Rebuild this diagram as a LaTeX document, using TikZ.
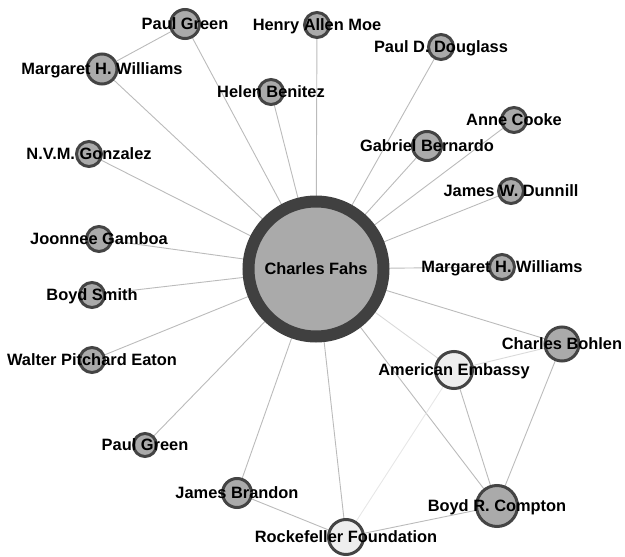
\documentclass[tikz,border=0pt]{standalone}
\usepackage{fontspec}
\setmainfont{Liberation Sans}
\definecolor{nfill}{HTML}{AAAAAA}
\definecolor{lfill}{HTML}{EEEEEE}
\definecolor{nstroke}{HTML}{444444}
\definecolor{cstroke}{HTML}{404040}
\definecolor{edgec}{HTML}{BBBBBB}
\begin{document}
\begin{tikzpicture}[x=1pt,y=-1pt,
  vtx/.style={circle,draw=nstroke,fill=nfill,line width=3pt,inner sep=0pt,minimum size=#1},
  lvtx/.style={vtx=#1,fill=lfill},
  lbl/.style={anchor=base,inner sep=0pt,font=\fontsize{16.4}{19}\selectfont\bfseries,text=black},
  edge/.style={draw=edgec,line width=0.9pt},
  faint/.style={draw=edgec!55,line width=0.9pt}]
\useasboundingbox (0,0) rectangle (625,557);
% coordinates of node centres
\coordinate (cf) at (316,269);
\coordinate (pgt) at (185,24);
\coordinate (mwl) at (102,69);
\coordinate (hb) at (271,92);
\coordinate (nvm) at (89,154);
\coordinate (ham) at (317,25);
\coordinate (pdd) at (441,47);
\coordinate (ac) at (514,120);
\coordinate (gb) at (427,146);
\coordinate (jwd) at (511,191);
\coordinate (mwr) at (502,267);
\coordinate (jg) at (99,239);
\coordinate (bs) at (92,295);
\coordinate (wpe) at (92,360);
\coordinate (pgb) at (145,445);
\coordinate (jb) at (237,493);
\coordinate (rf) at (346,537);
\coordinate (ae) at (454,370);
\coordinate (cb) at (562,344);
\coordinate (brc) at (497,506);
% edges
\foreach \t in {pgt,mwl,hb,nvm,ham,pdd,ac,gb,jwd,mwr,jg,bs,wpe,pgb,jb,rf,cb,brc}
  \draw[edge] (cf) -- (\t);
\draw[faint] (cf) -- (ae);
\draw[edge] (mwl) -- (pgt);
\draw[faint] (ae) -- (cb);
\draw[edge] (ae) -- (brc);
\draw[draw=edgec!35,line width=0.9pt] (ae) -- (rf);
\draw[edge] (cb) -- (brc);
\draw[edge] (brc) -- (rf);
\draw[edge] (jb) -- (rf);
% vertices
\node[circle,draw=cstroke,fill=nfill,line width=12pt,inner sep=0pt,minimum size=135pt] (ncf) at (cf) {};
\node[vtx=29pt] (npgt) at (pgt) {};
\node[vtx=30pt] (nmwl) at (mwl) {};
\node[vtx=25pt] (nhb) at (hb) {};
\node[vtx=25pt] (nnvm) at (nvm) {};
\node[vtx=25pt] (nham) at (ham) {};
\node[vtx=25pt] (npdd) at (pdd) {};
\node[vtx=25pt] (nac) at (ac) {};
\node[vtx=29pt] (ngb) at (gb) {};
\node[vtx=25pt] (njwd) at (jwd) {};
\node[vtx=25pt] (nmwr) at (mwr) {};
\node[vtx=25pt] (njg) at (jg) {};
\node[vtx=25pt] (nbs) at (bs) {};
\node[vtx=25pt] (nwpe) at (wpe) {};
\node[vtx=23pt] (npgb) at (pgb) {};
\node[vtx=29pt] (njb) at (jb) {};
\node[lvtx=35pt] (nrf) at (rf) {};
\node[lvtx=37pt] (nae) at (ae) {};
\node[vtx=34pt] (ncb) at (cb) {};
\node[vtx=41pt] (nbrc) at (brc) {};
% labels
\node[lbl] (tcf) at ([yshift=-5.6pt]cf) {Charles Fahs};
\node[lbl] (tpgt) at ([yshift=-5.6pt]pgt) {Paul Green};
\node[lbl] (tmwl) at ([yshift=-5.6pt]mwl) {Margaret H. Williams};
\node[lbl] (thb) at ([yshift=-5.6pt]hb) {Helen Benitez};
\node[lbl] (tnvm) at ([yshift=-5.6pt]nvm) {N.V.M. Gonzalez};
\node[lbl] (tham) at ([yshift=-5.6pt]ham) {Henry Allen Moe};
\node[lbl] (tpdd) at ([yshift=-5.6pt]pdd) {Paul D. Douglass};
\node[lbl] (tac) at ([yshift=-5.6pt]ac) {Anne Cooke};
\node[lbl] (tgb) at ([yshift=-5.6pt]gb) {Gabriel Bernardo};
\node[lbl] (tjwd) at ([yshift=-5.6pt]jwd) {James W. Dunnill};
\node[lbl] (tmwr) at ([yshift=-5.6pt]mwr) {Margaret H. Williams};
\node[lbl] (tjg) at ([yshift=-5.6pt]jg) {Joonnee Gamboa};
\node[lbl] (tbs) at ([yshift=-5.6pt]bs) {Boyd Smith};
\node[lbl] (twpe) at ([yshift=-5.6pt]wpe) {Walter Pitchard Eaton};
\node[lbl] (tpgb) at ([yshift=-5.6pt]pgb) {Paul Green};
\node[lbl] (tjb) at ([yshift=-5.6pt]jb) {James Brandon};
\node[lbl] (trf) at ([yshift=-5.6pt]rf) {Rockefeller Foundation};
\node[lbl] (tae) at ([yshift=-5.6pt]ae) {American Embassy};
\node[lbl] (tcb) at ([yshift=-5.6pt]cb) {Charles Bohlen};
\node[lbl] (tbrc) at ([yshift=-5.6pt]brc) {Boyd R. Compton};
\end{tikzpicture}
\end{document}
